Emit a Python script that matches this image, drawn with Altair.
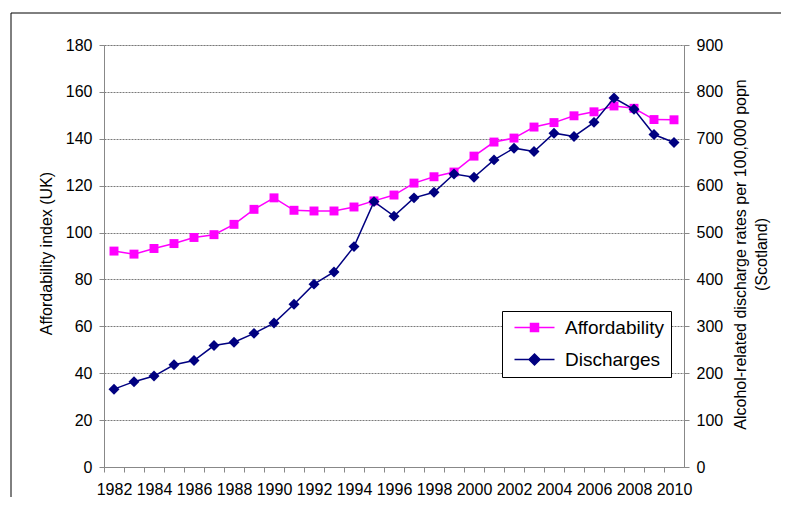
import altair as alt
import pandas as pd

years = list(range(1982, 2011))
affordability = [92.1, 90.8, 93.2, 95.3, 97.9, 99.1, 103.5, 109.9, 114.8, 109.5,
                 109.2, 109.2, 110.9, 113.5, 116.0, 121.1, 123.8, 125.8, 132.6, 138.6,
                 140.3, 145.0, 146.9, 149.8, 151.5, 154.0, 153.0, 148.2, 148.1]
discharges = [166, 182, 194, 218, 227, 259, 266, 285, 307, 347,
              390, 416, 470, 566, 535, 574, 586, 625, 618, 655,
              680, 673, 712, 705, 735, 787, 763, 709, 692]
series_names = ["Affordability", "Discharges"]
series_colors = ["#ff00ff", "#000080"]
left_ticks = list(range(0, 181, 20))
right_ticks = list(range(0, 901, 100))
left_title = "Affordability index (UK)"
right_title = ["Alcohol-related discharge rates per 100,000 popn", "(Scotland)"]

aff_df = pd.DataFrame({"year": years, "value": affordability, "series": series_names[0]})
dis_df = pd.DataFrame({"year": years, "value": discharges, "series": series_names[1]})
one = pd.DataFrame({"k": [0]})

W, H = 580, 422
FONT = "Liberation Sans"
STEP = W / len(years)

x_enc = alt.X(
    "year:Q",
    scale=alt.Scale(domain=[1981.5, 2010.5], nice=False, zero=False),
    axis=alt.Axis(values=years, format="d",
                  labelExpr="datum.value % 2 == 0 ? datum.label : ''",
                  tickOffset=-STEP / 2, labelOffset=STEP / 2,
                  title=None, grid=False, labelOverlap=False, labelFlush=False,
                  tickSize=5, labelPadding=9, labelFontSize=16),
)

y_left = alt.Y(
    "value:Q",
    scale=alt.Scale(domain=[0, 180], nice=False),
    axis=alt.Axis(values=left_ticks, title=left_title, grid=True,
                  gridColor="#7a7a7a", gridDash=[2, 1], gridWidth=1,
                  tickSize=5, labelPadding=7, labelFontSize=16,
                  titleFontSize=16, titleFontWeight="normal",
                  titleAngle=270, titleX=-53, titleY=H / 2 - 3,
                  titleBaseline="alphabetic", titleAlign="center"),
)

y_right = alt.Y(
    "value:Q",
    scale=alt.Scale(domain=[0, 900], nice=False),
    axis=alt.Axis(orient="right", values=right_ticks, title=right_title, grid=False,
                  tickSize=5, labelPadding=7, labelFontSize=16,
                  titleFontSize=16, titleFontWeight="normal",
                  titleAngle=270, titleX=61, titleY=H / 2 - 2,
                  titleBaseline="alphabetic", titleAlign="center",
                  titleLineHeight=21),
)

shape_expr = ("datum.value == 'Affordability' ? "
              "'M-4,0H4M-0.8,-0.8H0.8V0.8H-0.8Z' : "
              "'M-4,0H4M0,-1.1L1.1,0L0,1.1L-1.1,0Z'")
color_expr = "scale('color', datum.value)"

leg = alt.Legend(
    title=None, orient="none", legendX=398, legendY=266, direction="vertical",
    fillColor="white", strokeColor="black", padding=7,
    symbolSize=100, symbolOffset=16, labelOffset=21, rowPadding=12,
    labelFontSize=19, labelFont=FONT, labelColor="black", symbolStrokeWidth=1.5,
    symbolType={"expr": shape_expr},
    symbolFillColor={"expr": color_expr},
    symbolStrokeColor={"expr": color_expr},
    symbolOpacity=1,
)

color_enc = alt.Color("series:N", scale=alt.Scale(domain=series_names, range=series_colors),
                      legend=leg)

frame_left = alt.Chart(one).mark_rule(color="black", strokeWidth=1).encode(
    x=alt.value(-93), y=alt.value(-32), y2=alt.value(H + 60))
frame_top = alt.Chart(one).mark_rule(color="black", strokeWidth=1).encode(
    x=alt.value(-93), x2=alt.value(W + 120), y=alt.value(-32))

aff_line = alt.Chart(aff_df).mark_line(color=series_colors[0], strokeWidth=1.5).encode(
    x=x_enc, y=y_left)
aff_pts = alt.Chart(aff_df).mark_point(shape="square", filled=True, size=80, opacity=1).encode(
    x=x_enc, y=y_left, color=color_enc)

dis_line = alt.Chart(dis_df).mark_line(color=series_colors[1], strokeWidth=1.5).encode(
    x=x_enc, y=y_right)
dis_pts = alt.Chart(dis_df).mark_point(shape="diamond", filled=True, size=120, opacity=1).encode(
    x=x_enc, y=y_right, color=color_enc)

left = alt.layer(frame_left, frame_top, aff_line, aff_pts)
right = alt.layer(dis_line, dis_pts)

chart = alt.layer(left, right).resolve_scale(y="independent").properties(
    width=W, height=H, autosize="none",
    padding={"left": 96, "top": 37, "right": 97, "bottom": 30},
).configure_view(stroke=None).configure_axis(
    labelFont=FONT, titleFont=FONT, labelColor="black", titleColor="black",
    domainColor="black", tickColor="black", domainWidth=1, tickWidth=1,
).configure(background="white")

chart.save("out.html", embed_options={"renderer": "svg", "actions": False})
